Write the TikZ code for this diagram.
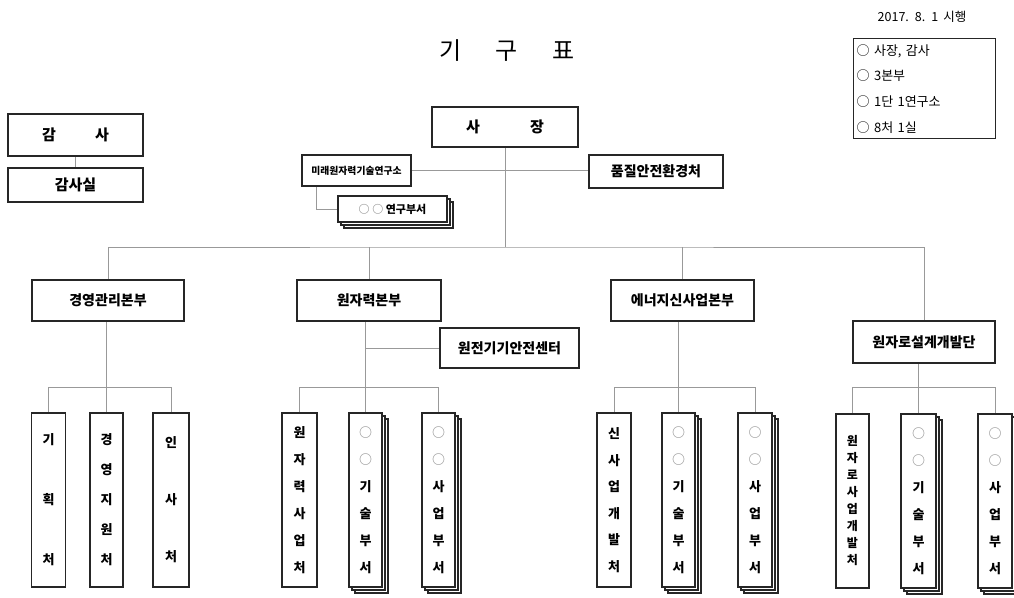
\documentclass[tikz,border=0pt]{standalone}
\usepackage{fontspec}
\newfontfamily\kr{Noto Sans CJK KR}
\usetikzlibrary{shadows}
\begin{document}
\begin{tikzpicture}[x=1pt,y=-1pt,
  box/.style={draw=black!85, line width=1.6pt, fill=white, inner sep=0pt, align=center,
    font=\kr\bfseries\fontsize{14}{16}\selectfont},
  conn/.style={draw=black!40, line width=1pt},
  vbox/.style={box, minimum width=34pt, minimum height=174pt},
  stack/.style={
    general shadow={shadow xshift=6pt, shadow yshift=-6pt, draw=black!85, line width=1.2pt, fill=white},
    general shadow={shadow xshift=3pt, shadow yshift=-3pt, draw=black!85, line width=1.2pt, fill=white}},
  vt/.style={font=\kr\bfseries\fontsize{13}{#1}\selectfont}
]
\fill[white] (0,0) rectangle (1014,597);
\useasboundingbox (0,0) rectangle (1014,597);

% title and date
\node[font=\kr\fontsize{24}{26}\selectfont] (title) at (507,51) {기\hspace{34pt}구\hspace{34pt}표};
\node[font=\kr\fontsize{12.5}{14}\selectfont] (date) at (922,17) {2017.\hspace{6pt}8.\hspace{6pt}1\hspace{5pt}시행};
\node[draw=black!85, line width=1.4pt, anchor=north west, minimum width=142pt, minimum height=100pt,
  text width=136pt, inner xsep=3pt, inner ysep=0pt, align=left, font=\kr\fontsize{13}{25.7}\selectfont]
  (legend) at (853,38) {○ 사장, 감사\\○ 3본부\\○ 1단 1연구소\\○ 8처 1실};

% audit
\node[box, minimum width=135pt, minimum height=42pt, font=\kr\bfseries\fontsize{15}{17}\selectfont] (audit) at (75.5,135) {감\hspace{39pt}사};
\node[box, minimum width=135pt, minimum height=34pt, font=\kr\bfseries\fontsize{15}{17}\selectfont] (auditoff) at (75.5,185) {감사실};
\draw[conn] (audit.south) -- (auditoff.north);

% CEO
\node[box, minimum width=146pt, minimum height=40pt, font=\kr\bfseries\fontsize{15}{17}\selectfont] (ceo) at (505,127) {사\hspace{50pt}장};
\node[box, minimum width=109pt, minimum height=31pt, font=\kr\bfseries\fontsize{9.8}{11}\selectfont] (lab) at (356.5,170.5) {미래원자력기술연구소};
\node[box, minimum width=134pt, minimum height=33pt] (qa) at (656,171.5) {품질안전환경처};
\node[box, stack, minimum width=109pt, minimum height=26pt, font=\kr\bfseries\fontsize{11}{13}\selectfont] (labdept) at (392.5,209) {{\color{black!45}○ ○} 연구부서};

\coordinate (bus) at (507,247);
\draw[conn] (lab.east) -- (lab.east -| qa.west);
\draw[conn] ([xshift=-40pt]lab.south) |- (labdept.west);
\draw[conn] (ceo.south) -- (ceo.south |- bus);

% divisions
\node[box, minimum width=152pt, minimum height=41pt] (gm) at (108,300.5) {경영관리본부};
\node[box, minimum width=144pt, minimum height=41pt] (nuc) at (369,300.5) {원자력본부};
\node[box, minimum width=143pt, minimum height=41pt] (ene) at (682.5,300.5) {에너지신사업본부};
\node[box, minimum width=142pt, minimum height=42pt] (rd) at (924,342) {원자로설계개발단};
\node[box, minimum width=139pt, minimum height=40pt] (safety) at (509.5,348) {원전기기안전센터};

\draw[conn] (gm.north) |- (bus) -| (rd.north);
\draw[conn] (nuc.north) -- (nuc.north |- bus);
\draw[conn] (ene.north) -- (ene.north |- bus);

% departments - management
\node[vbox, vt=60] (plan) at (48.5,500) {기\\획\\처};
\node[vbox, vt=30, minimum width=33pt] (mgmt) at (106.5,500) {경\\영\\지\\원\\처};
\node[vbox, vt=57, minimum width=36pt] (hr) at (171,500) {인\\사\\처};
\draw[conn] (mgmt.north) -- (mgmt.north |- gm.south);
\draw[conn] (plan.north) -- ++(0,-25) -| (hr.north);

% nuclear
\node[vbox, vt=27, minimum width=35pt] (nbiz) at (299.5,500) {원\\자\\력\\사\\업\\처};
\node[vbox, stack, vt=27, minimum width=33pt] (ntech) at (365.5,500) {{\color{black!40}○}\\{\color{black!40}○}\\기\\술\\부\\서};
\node[vbox, stack, vt=27, minimum width=33pt] (nsales) at (438.5,500) {{\color{black!40}○}\\{\color{black!40}○}\\사\\업\\부\\서};
\draw[conn] (ntech.north) -- (ntech.north |- nuc.south);
\draw[conn] (nbiz.north) -- ++(0,-25) -| (nsales.north);
\draw[conn] (safety.west) -- (safety.west -| ntech.north);

% energy
\node[vbox, vt=26.5] (newbiz) at (614,500) {신\\사\\업\\개\\발\\처};
\node[vbox, stack, vt=27, minimum width=33pt] (etech) at (678.5,500) {{\color{black!40}○}\\{\color{black!40}○}\\기\\술\\부\\서};
\node[vbox, stack, vt=27] (esales) at (755,500) {{\color{black!40}○}\\{\color{black!40}○}\\사\\업\\부\\서};
\draw[conn] (etech.north) -- (etech.north |- ene.south);
\draw[conn] (newbiz.north) -- ++(0,-25) -| (esales.north);

% reactor
\node[vbox, minimum width=33pt, font=\kr\bfseries\fontsize{12}{17}\selectfont] (rbiz) at (852.5,501) {원\\자\\로\\사\\업\\개\\발\\처};
\node[vbox, stack, vt=27, minimum width=35pt] (rtech) at (918.5,501) {{\color{black!40}○}\\{\color{black!40}○}\\기\\술\\부\\서};
\node[vbox, stack, vt=27] (rsales) at (995,501) {{\color{black!40}○}\\{\color{black!40}○}\\사\\업\\부\\서};
\draw[conn] (rtech.north) -- (rtech.north |- rd.south);
\draw[conn] (rbiz.north) -- ++(0,-26) -| (rsales.north);
\end{tikzpicture}
\end{document}
